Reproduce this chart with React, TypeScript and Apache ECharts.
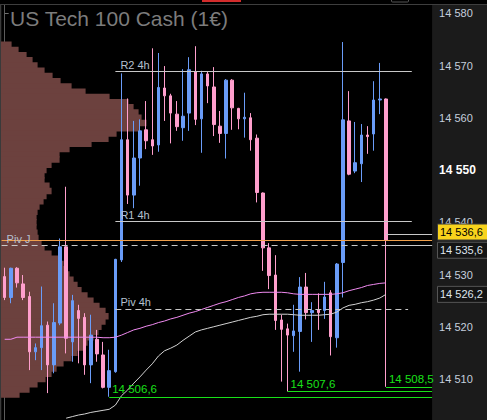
import React, { useEffect, useRef } from "react";
import * as echarts from "echarts";

const chartTitle = "US Tech 100 Cash (1€)";

// [open, close, low, high]
const candles: number[][] = [
  [14529.6, 14525.6, 14525.1, 14531.3],
  [14525.6, 14531.2, 14524.5, 14531.3],
  [14531.2, 14528.4, 14527.5, 14531.4],
  [14528.2, 14525.6, 14525.1, 14529.9],
  [14525.8, 14515.2, 14511.7, 14526.7],
  [14515.2, 14516.0, 14513.6, 14516.8],
  [14516.0, 14520.2, 14511.7, 14527.7],
  [14520.3, 14512.7, 14507.3, 14521.0],
  [14512.7, 14520.8, 14511.1, 14524.5],
  [14520.7, 14535.3, 14520.3, 14536.9],
  [14535.3, 14517.8, 14514.9, 14546.8],
  [14517.1, 14525.0, 14513.3, 14526.1],
  [14523.1, 14521.6, 14513.0, 14524.2],
  [14521.8, 14512.7, 14510.8, 14522.6],
  [14512.7, 14518.4, 14509.2, 14522.3],
  [14517.6, 14514.8, 14513.3, 14519.4],
  [14514.6, 14508.4, 14508.2, 14517.1],
  [14508.4, 14511.6, 14506.6, 14515.6],
  [14511.4, 14532.9, 14511.2, 14533.0],
  [14532.8, 14555.8, 14532.4, 14568.5],
  [14555.8, 14545.2, 14543.5, 14563.7],
  [14545.2, 14552.3, 14542.7, 14559.4],
  [14552.3, 14557.5, 14547.0, 14559.7],
  [14557.7, 14555.6, 14554.0, 14563.2],
  [14555.8, 14554.6, 14552.9, 14573.3],
  [14554.8, 14565.8, 14553.5, 14572.4],
  [14565.7, 14564.2, 14559.4, 14569.9],
  [14564.2, 14560.9, 14555.1, 14564.6],
  [14560.7, 14558.3, 14557.5, 14563.2],
  [14558.1, 14560.3, 14555.6, 14569.3],
  [14560.9, 14569.2, 14557.5, 14571.6],
  [14568.8, 14559.7, 14558.6, 14573.7],
  [14559.8, 14568.4, 14553.3, 14569.0],
  [14568.4, 14566.1, 14562.8, 14568.8],
  [14565.9, 14558.7, 14556.5, 14569.7],
  [14558.4, 14557.0, 14555.2, 14561.3],
  [14557.0, 14567.2, 14552.2, 14567.4],
  [14567.2, 14561.9, 14557.7, 14567.4],
  [14561.8, 14559.8, 14557.8, 14561.9],
  [14559.8, 14560.1, 14556.2, 14564.8],
  [14560.0, 14555.8, 14553.7, 14560.9],
  [14556.1, 14545.7, 14543.8, 14556.8],
  [14545.6, 14535.1, 14530.7, 14545.7],
  [14535.1, 14529.8, 14527.2, 14536.0],
  [14529.9, 14521.2, 14519.4, 14533.7],
  [14521.3, 14519.5, 14509.5, 14522.3],
  [14519.6, 14518.4, 14507.6, 14520.6],
  [14518.3, 14519.2, 14515.2, 14524.2],
  [14519.1, 14527.6, 14511.4, 14529.5],
  [14527.6, 14522.7, 14521.4, 14530.3],
  [14522.7, 14523.1, 14517.1, 14524.7],
  [14523.2, 14522.7, 14519.4, 14526.4],
  [14523.1, 14525.7, 14521.5, 14528.6],
  [14526.5, 14518.1, 14514.5, 14527.0],
  [14517.9, 14532.0, 14516.0, 14532.2],
  [14532.3, 14559.6, 14525.6, 14574.5],
  [14559.4, 14549.2, 14549.0, 14565.1],
  [14549.8, 14551.4, 14549.4, 14559.2],
  [14551.2, 14556.7, 14547.7, 14558.8],
  [14556.7, 14556.4, 14553.1, 14558.4],
  [14556.9, 14563.4, 14553.7, 14567.0],
  [14563.4, 14563.6, 14560.7, 14570.5],
  [14563.6, 14536.6, 14508.5, 14563.7],
];

const pinkMA: (number | null)[] = [
  14517.6, 14517.6, 14518.0, 14518.0, 14518.0, 14518.0, 14518.0, 14518.0, 14518.0, 14518.0,
  14518.0, 14518.0, 14518.0, 14518.0, 14518.0, 14518.0, 14517.9, 14517.9, 14518.0, 14518.4,
  14518.9, 14519.4, 14519.7, 14520.1, 14520.4, 14520.8, 14521.1, 14521.5, 14521.8, 14522.2,
  14522.6, 14522.9, 14523.3, 14523.7, 14524.1, 14524.5, 14524.8, 14525.2, 14525.6, 14525.9,
  14526.3, 14526.5, 14526.6, 14526.6, 14526.6, 14526.6, 14526.5, 14526.3, 14526.2, 14526.2,
  14526.2, 14526.2, 14526.2, 14526.2, 14526.3, 14526.5, 14526.9, 14527.2, 14527.5, 14527.9,
  14528.1, 14528.3, 14528.4,
];

const whiteMA: (number | null)[] = [
  null, null, null, null, null, null, null, null, null, null,
  14502.5, 14502.8, 14503.1, 14503.3, 14503.6, 14503.8, 14504.0, 14504.2, 14505.0, 14506.8,
  14507.9, 14509.2, 14510.4, 14511.7, 14512.9, 14514.4, 14515.4, 14515.9, 14516.5, 14517.4,
  14518.2, 14519.0, 14519.4, 14519.7, 14520.0, 14520.3, 14520.6, 14520.9, 14521.2, 14521.5,
  14521.8, 14522.0, 14522.3, 14522.4, 14522.4, 14522.4, 14522.4, 14522.3, 14522.2, 14522.2,
  14522.2, 14522.2, 14522.3, 14522.4, 14522.8, 14523.6, 14524.1, 14524.3, 14524.6, 14524.8,
  14525.1, 14525.5, 14526.2,
];

const profilePrices: number[] = [
  14574, 14573, 14572, 14571, 14570, 14569, 14568, 14567, 14566, 14565,
  14564, 14563, 14562, 14561, 14560, 14559, 14558, 14557, 14556, 14555,
  14554, 14553, 14552, 14551, 14550, 14549, 14548, 14547, 14546, 14545,
  14544, 14543, 14542, 14541, 14540, 14539, 14538, 14537, 14536, 14535,
  14534, 14533, 14532, 14531, 14530, 14529, 14528, 14527, 14526, 14525,
  14524, 14523, 14522, 14521, 14520, 14519, 14518, 14517, 14516, 14515,
  14514, 14513, 14512, 14511, 14510, 14509, 14508, 14507,
];
const profileVolumes: number[] = [
  10, 17, 25, 31, 36, 43, 51, 59, 70, 84,
  108, 127, 132, 137, 140, 145, 138, 115, 107, 90,
  68, 58, 58, 50, 45, 43, 43, 48, 50, 45,
  42, 38, 36, 35, 35, 35, 36, 37, 40, 43,
  50, 57, 62, 66, 68, 72, 76, 80, 86, 92,
  98, 104, 107, 104, 100, 97, 92, 86, 83, 76,
  70, 62, 55, 50, 44, 36, 28, 18,
];

const yTickValues = [14510, 14520, 14530, 14540, 14550, 14560, 14570, 14580];

const pivotNames = ["R2 4h", "R1 4h", "Piv 4h", "Piv J"];
const pivotValues = [14568.9, 14540.2, 14523.4, 14535.6];
const pivotStartBar = [18, 18, 18, -0.5];
const pivotEndBar = [66.2, 66.2, 65.6, 69.5];
const lastPrice = 14536.6;
const askPrice = 14537.7;
const lastBar = 62;
const lowValues = [14506.6, 14507.6, 14508.5];
const lowBars = [17, 46, 62];
const maLastValue = 14526.2;

const BAR_SLOTS = 70;
const categories = Array.from({ length: BAR_SLOTS }, (_, i) => `${i + 1}`);

const Y_MIN = 14502.15;
const Y_MAX = 14582.546;

const FONT = "'Liberation Sans', Arial, sans-serif";
const BLUE = "#6a9cf8";
const PINK = "#ff9fcd";
const PROFILE = "#6c413e";
const LEVEL_GRAY = "#c8c8c8";
const LABEL_GRAY = "#b5c0d0";
const GREEN = "#19e019";

function fmtPrice(v: number, d: number) {
  const s = v.toFixed(d).replace(".", ",");
  return s.slice(0, 2) + " " + s.slice(2);
}

export default function App() {
  const ref = useRef<HTMLDivElement>(null);

  useEffect(() => {
    if (!ref.current) return;
    const chart = echarts.init(ref.current, undefined, { renderer: "svg" });

    const levelLines: any[] = [];
    pivotNames.forEach((name, i) => {
      const dashed = name.startsWith("Piv");
      levelLines.push([
        {
          coord: [pivotStartBar[i], pivotValues[i]],
          lineStyle: { color: LEVEL_GRAY, width: 1, type: dashed ? [6, 4] : "solid" },
          label: {
            show: true,
            position: "insideStartTop",
            formatter: name,
            color: LABEL_GRAY,
            fontSize: 11,
            fontFamily: FONT,
            distance: [5, 1],
          },
        },
        { coord: [pivotEndBar[i], pivotValues[i]] },
      ]);
    });
    levelLines.push([
      { coord: [lastBar, pivotValues[3]], lineStyle: { color: LEVEL_GRAY, width: 1, type: "solid" }, label: { show: false } },
      { coord: [BAR_SLOTS - 0.5, pivotValues[3]] },
    ]);
    levelLines.push([
      { coord: [lastBar, askPrice], lineStyle: { color: LEVEL_GRAY, width: 1, type: "solid" }, label: { show: false } },
      { coord: [BAR_SLOTS - 0.5, askPrice] },
    ]);
    levelLines.push([
      { coord: [-0.5, lastPrice], lineStyle: { color: "#f0a04c", width: 1, type: "solid" }, label: { show: false } },
      { coord: [BAR_SLOTS - 0.5, lastPrice] },
    ]);
    lowValues.forEach((v, i) => {
      levelLines.push([
        {
          coord: [lowBars[i], v],
          lineStyle: { color: GREEN, width: 1, type: "solid" },
          label: {
            show: true,
            position: "insideStartTop",
            formatter: fmtPrice(v, 1),
            color: GREEN,
            fontSize: 11.5,
            fontFamily: FONT,
            distance: [3, 2],
          },
        },
        { coord: [BAR_SLOTS - 0.5, v] },
      ]);
    });

    const option: any = {
      animation: false,
      backgroundColor: "#1b1b1b",
      grid: {
        left: 1.6,
        top: 0,
        width: 430.5,
        height: 420,
        show: true,
        backgroundColor: "#000000",
        borderWidth: 0,
        containLabel: false,
        outerBoundsMode: "none",
      },
      xAxis: [
        { type: "category", data: categories, boundaryGap: true, show: false, gridIndex: 0 },
        { type: "value", min: -0.5, max: BAR_SLOTS - 0.5, show: false, gridIndex: 0 },
        { type: "value", min: 0, max: 430.5, show: false, gridIndex: 0 },
      ],
      yAxis: {
        type: "value",
        min: Y_MIN,
        max: Y_MAX,
        position: "right",
        axisLine: { show: true, lineStyle: { color: "#5c5c5c", width: 1 } },
        axisTick: { show: true, length: 4, customValues: yTickValues, lineStyle: { color: "#707070" } },
        splitLine: { show: false },
        axisLabel: {
          show: true,
          customValues: yTickValues,
          margin: 7,
          color: "#c5cfdd",
          fontSize: 11,
          fontFamily: FONT,
          formatter: (v: number) => {
            const s = fmtPrice(v, 0);
            return Math.round(v) === 14550 ? `{b|${s}}` : s;
          },
          rich: {
            b: { fontWeight: "bold", fontSize: 12, color: "#ffffff", fontFamily: FONT },
          },
        },
      },
      series: [
        {
          type: "custom",
          name: "profile",
          xAxisIndex: 2,
          yAxisIndex: 0,
          z: 1,
          silent: true,
          encode: { x: 1, y: 0 },
          data: profilePrices.map((p, i) => [p, profileVolumes[i]]),
          renderItem: (_params: any, api: any) => {
            const p = api.value(0);
            const w = api.value(1);
            const a = api.coord([0, p + 0.5]);
            const b = api.coord([w, p - 0.5]);
            return {
              type: "rect",
              shape: { x: a[0] - 2, y: a[1] - 0.6, width: b[0] - a[0] + 2, height: b[1] - a[1] + 1.2 },
              style: { fill: PROFILE },
            };
          },
        },
        {
          type: "line",
          name: "levels",
          xAxisIndex: 1,
          yAxisIndex: 0,
          data: [],
          z: 2,
          silent: true,
          markLine: {
            silent: true,
            symbol: ["none", "none"],
            animation: false,
            data: levelLines,
          },
        },
        {
          type: "candlestick",
          name: "price",
          xAxisIndex: 0,
          yAxisIndex: 0,
          z: 3,
          barWidth: 3,
          data: candles,
          itemStyle: {
            color: BLUE,
            color0: PINK,
            borderColor: BLUE,
            borderColor0: PINK,
            borderWidth: 1,
          },
        },
        {
          type: "line",
          name: "ma1",
          xAxisIndex: 0,
          yAxisIndex: 0,
          z: 4,
          data: pinkMA,
          symbol: "none",
          lineStyle: { color: "#f08af0", width: 1 },
          silent: true,
        },
        {
          type: "line",
          name: "ma2",
          xAxisIndex: 0,
          yAxisIndex: 0,
          z: 4,
          data: whiteMA,
          symbol: "none",
          lineStyle: { color: "#d2d2d2", width: 1 },
          silent: true,
        },
      ],
    };

    chart.setOption(option);

    const py = (v: number) => chart.convertToPixel({ yAxisIndex: 0 }, v) as number;

    const priceBox = (value: number, shift: number, fill: string, stroke: string, color: string) => {
      const cy = py(value) + shift;
      return {
        type: "group",
        z: 100,
        children: [
          {
            type: "rect",
            shape: { x: 437.5, y: cy - 8, width: 52, height: 16 },
            style: { fill, stroke, lineWidth: 1 },
            z: 100,
          },
          {
            type: "text",
            x: 440,
            y: cy,
            z: 101,
            style: {
              text: fmtPrice(value, 1),
              fill: color,
              font: `11px ${FONT}`,
              verticalAlign: "middle",
              align: "left",
            },
          },
        ],
      };
    };

    chart.setOption({
      graphic: [
        { type: "rect", z: 90, shape: { x: 0, y: 0, width: 487, height: 4 }, style: { fill: "#000" } },
        { type: "line", z: 91, shape: { x1: 0, y1: 4.5, x2: 487, y2: 4.5 }, style: { stroke: "#3e3e3e", lineWidth: 1 } },
        { type: "rect", z: 92, shape: { x: 202, y: 0, width: 39, height: 2 }, style: { fill: "#d42c2c" } },
        { type: "rect", z: 92, shape: { x: 391.5, y: -2, width: 17, height: 4, r: 1 }, style: { fill: "none", stroke: "#555", lineWidth: 1 } },
        { type: "line", z: 91, shape: { x1: 0.5, y1: 4, x2: 0.5, y2: 420 }, style: { stroke: "#3a3a3a", lineWidth: 1 } },
        {
          type: "text",
          z: 95,
          left: 10,
          top: 8,
          style: {
            text: chartTitle,
            fill: "#7c7c7c",
            font: `21px ${FONT}`,
          },
        },
        priceBox(lastPrice, -8, "#f8d31c", "#3a3a3a", "#000000"),
        priceBox(pivotValues[3], 5, "#141414", "#555555", "#dfe5ee"),
        priceBox(maLastValue, 0, "#141414", "#555555", "#dfe5ee"),
      ],
    });

    return () => chart.dispose();
  }, []);

  return (
    <div
      ref={ref}
      style={{ position: "fixed", left: 0, top: 0, width: 487, height: 420 }}
    />
  );
}
